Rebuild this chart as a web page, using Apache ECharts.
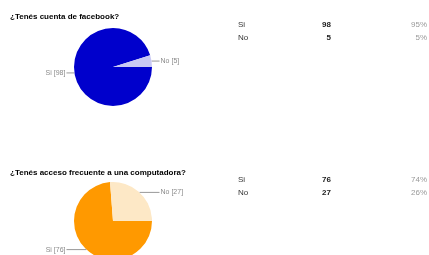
<!DOCTYPE html>
<html><head><meta charset="utf-8">
<script src="https://cdn.jsdelivr.net/npm/echarts@6/dist/echarts.min.js"></script>
<style>html,body{margin:0;padding:0;background:#fff}#c{width:429px;height:255px}</style>
</head><body><div id="c"></div>
<script>
var titles = ['¿Tenés cuenta de facebook?', '¿Tenés acceso frecuente a una computadora?'];
var categories = ['Si', 'No'];
var facebookValues = [98, 5];
var computerValues = [76, 27];
var facebookPct = ['95%', '5%'];
var computerPct = ['74%', '26%'];
var facebookColors = ['#0000cc', '#c8c8f4'];
var computerColors = ['#ff9900', '#fde8c6'];

var chart = echarts.init(document.getElementById('c'), null, {renderer: 'canvas'});
var FONT = '"Liberation Sans", Arial, sans-serif';

function pieSeries(values, colors, center, len2) {
  return {
    type: 'pie', center: center, radius: 39, startAngle: 0, clockwise: true,
    animation: false, silent: true, avoidLabelOverlap: false,
    data: categories.map(function (c, i) { return {name: c, value: values[i], itemStyle: {color: colors[i]}}; }),
    label: {show: true, formatter: '{b} [{c}]', fontSize: 7, color: '#8a8a8a', fontFamily: FONT, distanceToLabelLine: 1},
    labelLine: {show: true, length: 0, length2: len2, lineStyle: {color: '#999', width: 1}, smooth: false}
  };
}

var graphics = [];
function table(values, pcts, y0) {
  categories.forEach(function (c, i) {
    var y = y0 + i * 12.5;
    graphics.push({type: 'text', left: 238, top: y - 5, style: {text: c, font: '8px ' + FONT, fill: '#333'}});
    graphics.push({type: 'text', right: 98, top: y - 5, style: {text: String(values[i]), font: 'bold 8px ' + FONT, fill: '#222', textAlign: 'right'}});
    graphics.push({type: 'text', right: 2, top: y - 5, style: {text: pcts[i], font: '8px ' + FONT, fill: '#999', textAlign: 'right'}});
  });
}
table(facebookValues, facebookPct, 26);
table(computerValues, computerPct, 181);

chart.setOption({
  animation: false,
  title: [
    {text: titles[0], left: 5, top: 8, textStyle: {fontSize: 8, fontWeight: 'bold', color: '#000', fontFamily: FONT}},
    {text: titles[1], left: 5, top: 164, textStyle: {fontSize: 8, fontWeight: 'bold', color: '#000', fontFamily: FONT}}
  ],
  graphic: graphics,
  series: [
    pieSeries(facebookValues, facebookColors, [113, 67], 8),
    pieSeries(computerValues, computerColors, [113, 221], 20)
  ]
});
</script></body></html>
